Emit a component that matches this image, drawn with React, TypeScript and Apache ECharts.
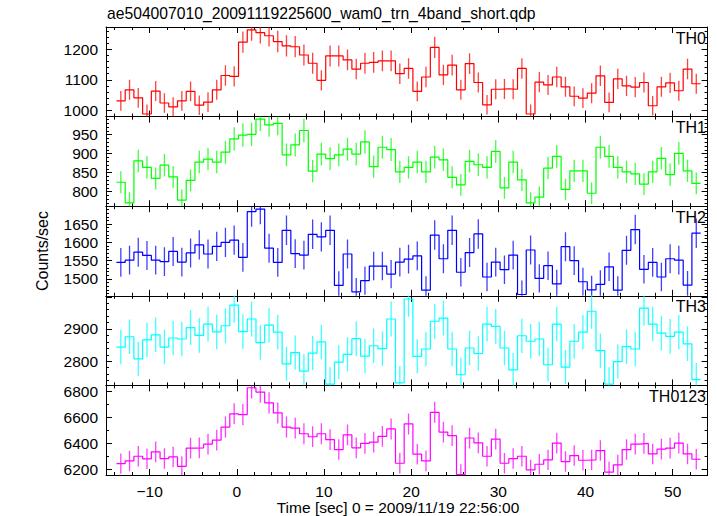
import React, { useEffect, useRef } from "react";
import * as echarts from "echarts";

const TITLE = "ae504007010_20091119225600_wam0_trn_4band_short.qdp";
const X_NAME = "Time [sec] 0 = 2009/11/19 22:56:00";
const Y_NAME = "Counts/sec";

// bin centres (uniform 1 s bins)
const T_START = -13.3;
const BIN = 1;
const N_BINS = 67;
const TIME = Array.from({ length: N_BINS }, (_, k) => Math.round((T_START + k * BIN) * 100) / 100);

const TH0 = [
  1031, 1067, 1041, 988, 1063, 1024, 1011, 1031, 1062, 1017,
  1027, 1067, 1114, 1111, 1223, 1263, 1254, 1244, 1225, 1211,
  1208, 1181, 1154, 1098, 1178, 1178, 1165, 1135, 1154, 1157,
  1162, 1162, 1120, 1137, 1062, 1109, 1206, 1116, 1148, 1067,
  1153, 1091, 1018, 1069, 1070, 1069, 1137, 988, 1092, 1083,
  1109, 1077, 1046, 1040, 1056, 1113, 1026, 1103, 1080, 1076,
  1091, 1015, 1077, 1090, 1064, 1135, 1087,
];
const TH1 = [
  825, 771, 881, 864, 835, 870, 839, 778, 830, 878,
  886, 878, 904, 939, 949, 951, 991, 976, 980, 897,
  923, 961, 854, 899, 887, 897, 912, 899, 931, 866,
  917, 911, 852, 864, 878, 852, 891, 884, 838, 818,
  880, 871, 864, 906, 810, 878, 831, 771, 786, 862,
  893, 806, 855, 855, 796, 917, 893, 864, 852, 847,
  820, 852, 888, 845, 901, 855, 822,
];
const TH2 = [
  1545, 1551, 1573, 1564, 1551, 1547, 1575, 1546, 1571, 1593,
  1568, 1589, 1600, 1606, 1559, 1684, 1691, 1584, 1545, 1633,
  1569, 1565, 1622, 1615, 1633, 1482, 1568, 1464, 1495, 1535,
  1535, 1513, 1546, 1554, 1563, 1469, 1620, 1555, 1633, 1518,
  1572, 1623, 1505, 1546, 1525, 1565, 1457, 1579, 1501, 1536,
  1486, 1588, 1550, 1492, 1470, 1485, 1533, 1469, 1578, 1635,
  1526, 1545, 1505, 1555, 1551, 1483, 1625,
];
const TH3 = [
  2844, 2876, 2807, 2866, 2882, 2844, 2872, 2869, 2904, 2880,
  2915, 2891, 2910, 2974, 2892, 2931, 2858, 2912, 2890, 2792,
  2827, 2769, 2825, 2860, 2729, 2797, 2821, 2870, 2816, 2848,
  2839, 2931, 2733, 2993, 2815, 2838, 2924, 2934, 2838, 2758,
  2841, 2824, 2915, 2908, 2841, 2773, 2879, 2862, 2869, 2789,
  2915, 2782, 2862, 2890, 2955, 2833, 2729, 2799, 2845, 2838,
  2965, 2915, 2887, 2877, 2890, 2854, 2743,
];
const TH0123 = [
  6244, 6265, 6301, 6281, 6335, 6283, 6296, 6223, 6364, 6366,
  6395, 6426, 6527, 6629, 6623, 6831, 6797, 6714, 6636, 6527,
  6519, 6475, 6452, 6475, 6429, 6353, 6467, 6366, 6400, 6410,
  6455, 6512, 6247, 6551, 6317, 6265, 6641, 6488, 6460, 6160,
  6442, 6405, 6301, 6434, 6247, 6283, 6301, 6195, 6239, 6273,
  6403, 6260, 6306, 6270, 6273, 6345, 6179, 6234, 6353, 6395,
  6400, 6319, 6356, 6364, 6403, 6319, 6278,
];

// tick labels shown on each panel's y axis
const TH0_TICKS = [1000, 1100, 1200];
const TH1_TICKS = [800, 850, 900, 950];
const TH2_TICKS = [1500, 1550, 1600, 1650];
const TH3_TICKS = [2800, 2900];
const TH0123_TICKS = [6200, 6400, 6600, 6800];
const X_TICKS = [-10, 0, 10, 20, 30, 40, 50];

const X_MIN = -15;
const X_MAX = 54;
const X_INTERVAL = 10;

const PANELS = [
  { name: "TH0", color: "#ff0000", data: TH0, ticks: TH0_TICKS, min: 979.5, max: 1272.6, interval: 100, minor: 5 },
  { name: "TH1", color: "#00ff00", data: TH1, ticks: TH1_TICKS, min: 762, max: 997.6, interval: 50, minor: 5 },
  { name: "TH2", color: "#0000ff", data: TH2, ticks: TH2_TICKS, min: 1453.5, max: 1699, interval: 50, minor: 5 },
  { name: "TH3", color: "#00ffff", data: TH3, ticks: TH3_TICKS, min: 2725, max: 3003, interval: 100, minor: 5 },
  { name: "TH0123", color: "#ff00ff", data: TH0123, ticks: TH0123_TICKS, min: 6156, max: 6849, interval: 200, minor: 2 },
];

const FONT = "'Liberation Sans', Arial, Helvetica, sans-serif";
const LEFT = 106;
const PLOT_W = 601.6;
const TOP = 27;
const PANEL_H = 89.6;

const near = (list: number[], v: number) => list.some((t) => Math.abs(t - v) < 1e-6);

function buildOption() {
  const grids: any[] = [];
  const xAxes: any[] = [];
  const yAxes: any[] = [];
  const series: any[] = [];
  const graphics: any[] = [];

  const axisLine = { show: true, onZero: false, lineStyle: { color: "#000", width: 1 } };
  const axisTick = { show: true, inside: true, length: 6, lineStyle: { color: "#000", width: 1 } };

  PANELS.forEach((p, i) => {
    const top = TOP + i * PANEL_H;
    grids.push({ left: LEFT, top, width: PLOT_W, height: PANEL_H, show: false });
    const isLast = i === PANELS.length - 1;
    ["bottom", "top"].forEach((pos) => {
      xAxes.push({
        type: "value",
        gridIndex: i,
        position: pos,
        min: X_MIN,
        max: X_MAX,
        minInterval: X_INTERVAL,
        maxInterval: X_INTERVAL,
        axisLine,
        axisTick,
        minorTick: { show: true, splitNumber: 5, length: 3, lineStyle: { color: "#000", width: 1 } },
        splitLine: { show: false },
        axisLabel: {
          show: isLast && pos === "bottom",
          margin: 8,
          color: "#000",
          fontSize: 15.5,
          fontFamily: FONT,
          formatter: (v: number) =>
            near(X_TICKS, v) ? (v < 0 ? "\u2212" + Math.abs(v) : String(v)) : "",
        },
      });
    });
    ["left", "right"].forEach((pos) => {
      yAxes.push({
        type: "value",
        gridIndex: i,
        position: pos,
        min: p.min,
        max: p.max,
        minInterval: p.interval,
        maxInterval: p.interval,
        axisLine,
        axisTick,
        minorTick: { show: true, splitNumber: p.minor, length: 3, lineStyle: { color: "#000", width: 1 } },
        splitLine: { show: false },
        axisLabel: {
          show: pos === "left",
          margin: 8,
          color: "#000",
          fontSize: 15.5,
          fontFamily: FONT,
          formatter: (v: number) => (near(p.ticks, v) ? String(v) : ""),
        },
      });
    });

    const stepData: number[][] = p.data.map((v, k) => [TIME[k] - BIN / 2, v]);
    stepData.push([TIME[N_BINS - 1] + BIN / 2, p.data[N_BINS - 1]]);
    series.push({
      type: "line",
      name: p.name,
      xAxisIndex: i * 2,
      yAxisIndex: i * 2,
      step: "end",
      symbol: "none",
      data: stepData,
      lineStyle: { color: p.color, width: 1.2 },
      clip: true,
      silent: true,
    });
    series.push({
      type: "custom",
      name: p.name + " err",
      xAxisIndex: i * 2,
      yAxisIndex: i * 2,
      clip: true,
      silent: true,
      data: p.data.map((v, k) => {
        const e = Math.sqrt(v);
        return [TIME[k], v, v - e, v + e];
      }),
      encode: { x: 0, y: 1 },
      renderItem: (params: any, api: any) => {
        const x = api.value(0);
        const a = api.coord([x, api.value(2)]);
        const b = api.coord([x, api.value(3)]);
        return {
          type: "line",
          shape: { x1: a[0], y1: a[1], x2: b[0], y2: b[1] },
          style: { stroke: p.color, lineWidth: 1.3, opacity: 0.75 },
        };
      },
    });

    graphics.push({
      type: "text",
      x: 706,
      y: top + 11,
      style: {
        text: p.name,
        fill: "#000",
        fontSize: 16,
        fontFamily: FONT,
        align: "right",
        verticalAlign: "middle",
      },
    });
  });

  graphics.push({
    type: "text",
    x: 107,
    y: 13,
    style: { text: TITLE, fill: "#000", fontSize: 15.7, fontFamily: FONT, align: "left", verticalAlign: "middle" },
  });
  graphics.push({
    type: "text",
    x: 398,
    y: 507,
    style: { text: X_NAME, fill: "#000", fontSize: 15.5, fontFamily: FONT, align: "center", verticalAlign: "middle" },
  });
  graphics.push({
    type: "text",
    x: 42,
    y: 251,
    rotation: Math.PI / 2,
    style: { text: Y_NAME, fill: "#000", fontSize: 16, fontFamily: FONT, align: "center", verticalAlign: "middle" },
  });

  return {
    animation: false,
    backgroundColor: "#fff",
    grid: grids,
    xAxis: xAxes,
    yAxis: yAxes,
    series,
    graphic: graphics,
  };
}

export default function App() {
  const ref = useRef<HTMLDivElement>(null);
  useEffect(() => {
    if (!ref.current) return;
    const chart = echarts.init(ref.current, undefined, { renderer: "svg" });
    chart.setOption(buildOption() as any);
    return () => chart.dispose();
  }, []);
  return (
    <div
      ref={ref}
      style={{ position: "fixed", left: 0, top: 0, width: 717, height: 516, background: "#fff" }}
    />
  );
}
